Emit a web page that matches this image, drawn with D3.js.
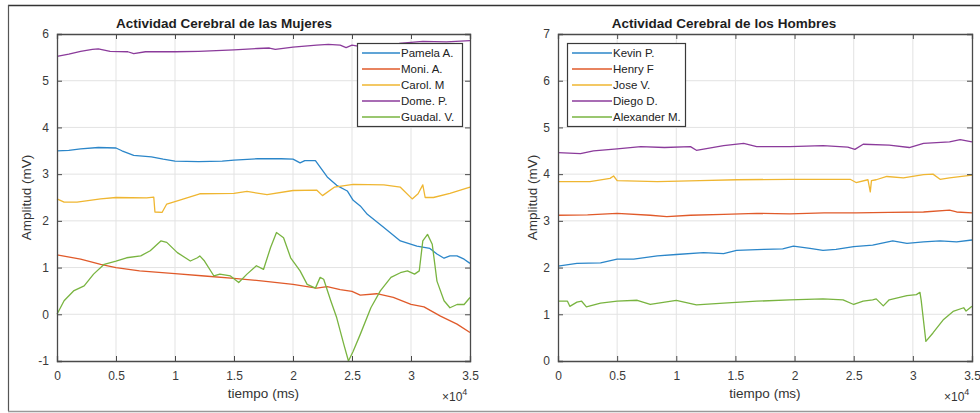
<!DOCTYPE html>
<html>
<head>
<meta charset="utf-8">
<script src="https://cdn.jsdelivr.net/npm/d3@7"></script>
<style>
  html, body { margin: 0; padding: 0; background: #fff; }
  svg { display: block; font-family: "Liberation Sans", Arial, sans-serif; }
</style>
</head>
<body>
<svg id="chart" width="980" height="413"></svg>
<script>
// ---------- data (time in units of 10^4 ms, amplitude in mV) ----------
const xTickValues = [0, 0.5, 1, 1.5, 2, 2.5, 3, 3.5];
const womenYTicks = [-1, 0, 1, 2, 3, 4, 5, 6];
const menYTicks = [0, 1, 2, 3, 4, 5, 6, 7];

const womenNames = ["Pamela A.", "Moni. A.", "Carol. M", "Dome. P.", "Guadal. V."];
const menNames = ["Kevin P.", "Henry F", "Jose V.", "Diego D.", "Alexander M."];

const pamela = [[0,3.50],[0.1,3.51],[0.2,3.54],[0.35,3.57],[0.5,3.56],[0.55,3.50],[0.65,3.40],[0.8,3.37],[0.9,3.32],[1.0,3.28],[1.2,3.27],[1.4,3.28],[1.5,3.30],[1.7,3.33],[1.9,3.33],[2.0,3.32],[2.06,3.24],[2.1,3.29],[2.19,3.29],[2.29,2.94],[2.37,2.76],[2.46,2.64],[2.51,2.44],[2.57,2.32],[2.63,2.14],[2.77,1.86],[2.91,1.57],[3.05,1.46],[3.16,1.41],[3.22,1.29],[3.28,1.20],[3.33,1.25],[3.39,1.25],[3.45,1.18],[3.5,1.09]];
const moni = [[0,1.27],[0.2,1.18],[0.37,1.07],[0.5,1.00],[0.7,0.93],[1.0,0.87],[1.25,0.82],[1.5,0.77],[1.75,0.71],[2.0,0.64],[2.2,0.56],[2.29,0.59],[2.4,0.53],[2.5,0.49],[2.57,0.41],[2.71,0.44],[2.85,0.36],[3.0,0.21],[3.11,0.16],[3.25,-0.04],[3.39,-0.21],[3.5,-0.39]];
const carol = [[0,2.47],[0.06,2.40],[0.17,2.40],[0.37,2.47],[0.5,2.50],[0.76,2.49],[0.82,2.51],[0.83,2.19],[0.89,2.18],[0.93,2.36],[1.02,2.43],[1.21,2.58],[1.5,2.59],[1.61,2.63],[1.78,2.56],[2.0,2.65],[2.2,2.66],[2.25,2.54],[2.35,2.72],[2.51,2.78],[2.77,2.77],[2.91,2.72],[3.01,2.47],[3.06,2.58],[3.1,2.77],[3.12,2.50],[3.19,2.50],[3.33,2.59],[3.5,2.72]];
const dome = [[0,5.52],[0.1,5.57],[0.2,5.63],[0.3,5.67],[0.35,5.68],[0.45,5.63],[0.6,5.62],[0.65,5.58],[0.75,5.62],[1.0,5.62],[1.2,5.63],[1.4,5.65],[1.5,5.66],[1.7,5.69],[1.8,5.70],[1.85,5.67],[2.0,5.72],[2.2,5.76],[2.3,5.78],[2.4,5.76],[2.45,5.71],[2.5,5.76],[2.55,5.74],[2.7,5.78],[2.9,5.80],[3.1,5.84],[3.3,5.83],[3.5,5.86]];
const guadal = [[0,0.00],[0.06,0.29],[0.14,0.50],[0.23,0.61],[0.31,0.86],[0.4,1.07],[0.5,1.14],[0.59,1.21],[0.71,1.25],[0.79,1.36],[0.88,1.57],[0.93,1.54],[1.02,1.32],[1.13,1.14],[1.19,1.21],[1.21,1.25],[1.25,1.14],[1.33,0.82],[1.38,0.86],[1.47,0.82],[1.54,0.68],[1.61,0.86],[1.69,1.04],[1.75,0.96],[1.81,1.43],[1.86,1.75],[1.92,1.64],[1.98,1.21],[2.06,0.93],[2.12,0.64],[2.19,0.56],[2.23,0.79],[2.26,0.75],[2.32,0.29],[2.37,-0.07],[2.43,-0.64],[2.47,-1.00],[2.51,-0.79],[2.57,-0.43],[2.66,0.14],[2.74,0.50],[2.83,0.79],[2.91,0.89],[2.97,0.93],[3.03,0.86],[3.07,0.93],[3.1,1.57],[3.14,1.71],[3.18,1.50],[3.22,0.71],[3.28,0.29],[3.33,0.14],[3.39,0.21],[3.45,0.21],[3.5,0.36]];

const kevin = [[0,2.03],[0.16,2.09],[0.36,2.10],[0.5,2.18],[0.64,2.18],[0.84,2.25],[1.0,2.28],[1.23,2.32],[1.4,2.30],[1.51,2.37],[1.74,2.39],[1.9,2.40],[1.99,2.46],[2.13,2.41],[2.24,2.37],[2.35,2.39],[2.5,2.45],[2.66,2.48],[2.83,2.57],[2.95,2.52],[3.09,2.55],[3.23,2.57],[3.37,2.55],[3.5,2.59]];
const henry = [[0,3.12],[0.25,3.13],[0.5,3.16],[0.78,3.12],[0.92,3.09],[1.12,3.12],[1.4,3.14],[1.68,3.16],[1.96,3.15],[2.25,3.17],[2.52,3.17],[2.8,3.18],[3.09,3.19],[3.31,3.23],[3.37,3.19],[3.5,3.17]];
const jose = [[0,3.84],[0.27,3.84],[0.44,3.91],[0.47,3.96],[0.5,3.86],[0.84,3.84],[1.2,3.86],[1.51,3.88],[1.96,3.89],[2.47,3.89],[2.52,3.82],[2.62,3.88],[2.64,3.62],[2.65,3.86],[2.69,3.88],[2.78,3.95],[2.92,3.92],[3.09,3.99],[3.17,4.00],[3.23,3.89],[3.31,3.92],[3.5,3.98]];
const diego = [[0,4.46],[0.19,4.44],[0.3,4.50],[0.5,4.54],[0.7,4.59],[0.9,4.57],[1.12,4.59],[1.17,4.51],[1.4,4.61],[1.57,4.66],[1.68,4.59],[1.96,4.59],[2.24,4.61],[2.45,4.58],[2.51,4.53],[2.58,4.64],[2.8,4.62],[2.97,4.57],[3.09,4.66],[3.31,4.69],[3.4,4.74],[3.5,4.69]];
const alexander = [[0,1.28],[0.08,1.28],[0.1,1.17],[0.16,1.26],[0.2,1.28],[0.24,1.16],[0.36,1.24],[0.5,1.28],[0.67,1.30],[0.78,1.21],[1.0,1.30],[1.17,1.20],[1.4,1.24],[1.68,1.28],[1.96,1.31],[2.24,1.33],[2.41,1.31],[2.5,1.21],[2.58,1.28],[2.66,1.31],[2.69,1.33],[2.75,1.18],[2.8,1.31],[2.95,1.40],[3.03,1.42],[3.06,1.47],[3.07,1.31],[3.11,0.42],[3.17,0.60],[3.26,0.89],[3.34,1.06],[3.43,1.14],[3.45,1.07],[3.5,1.17]];

const womenSeries = [pamela, moni, carol, dome, guadal];
const menSeries = [kevin, henry, jose, diego, alexander];
const colors = ["#2b86c9", "#e05a2a", "#efb631", "#8b3b9b", "#79b440"];

// ---------- drawing ----------
const svg = d3.select("#chart");

// outer frame
svg.append("line").attr("x1", 8).attr("x2", 980).attr("y1", 5.5).attr("y2", 5.5)
  .attr("stroke", "#333").attr("stroke-width", 1.4);
svg.append("line").attr("x1", 8.5).attr("x2", 8.5).attr("y1", 5).attr("y2", 411)
  .attr("stroke", "#555").attr("stroke-width", 1.2);
svg.append("line").attr("x1", 8).attr("x2", 980).attr("y1", 411.5).attr("y2", 411.5)
  .attr("stroke", "#999").attr("stroke-width", 1.4);

function drawPanel(cfg) {
  const g = svg.append("g");
  const x = d3.scaleLinear().domain([0, 3.5]).range([cfg.left, cfg.right]);
  const y = d3.scaleLinear().domain(cfg.yDomain).range([cfg.bottom, cfg.top]);

  // grid
  g.append("g").selectAll("line.vg").data(xTickValues.slice(1, -1)).join("line")
    .attr("x1", d => x(d)).attr("x2", d => x(d))
    .attr("y1", cfg.top).attr("y2", cfg.bottom)
    .attr("stroke", "#e3e3e3").attr("stroke-width", 1);
  g.append("g").selectAll("line.hg").data(cfg.yTicks.slice(1, -1)).join("line")
    .attr("x1", cfg.left).attr("x2", cfg.right)
    .attr("y1", d => y(d)).attr("y2", d => y(d))
    .attr("stroke", "#e3e3e3").attr("stroke-width", 1);

  // series
  const line = d3.line().x(d => x(d[0])).y(d => y(d[1]));
  cfg.series.forEach((s, i) => {
    g.append("path").datum(s).attr("d", line)
      .attr("fill", "none").attr("stroke", colors[i])
      .attr("stroke-width", 1.3).attr("stroke-linejoin", "round");
  });

  // axes (ticks inward, box)
  const tickLen = 5;
  const fmt = d => String(d);
  const axB = d3.axisBottom(x).tickValues(xTickValues).tickSize(-tickLen).tickPadding(10)
    .tickFormat(fmt);
  const axT = d3.axisTop(x).tickValues(xTickValues).tickSize(-tickLen).tickFormat("");
  const axL = d3.axisLeft(y).tickValues(cfg.yTicks).tickSize(-tickLen).tickPadding(8)
    .tickFormat(fmt);
  const axR = d3.axisRight(y).tickValues(cfg.yTicks).tickSize(-tickLen).tickFormat("");

  const style = sel => {
    sel.select(".domain").attr("stroke", "#4a4a4a").attr("stroke-width", 1.3);
    sel.selectAll(".tick line").attr("stroke", "#4a4a4a").attr("stroke-width", 1);
    sel.selectAll(".tick text").attr("fill", "#3a3a3a")
      .style("font-size", "12px").style("font-family", "'Liberation Sans', Arial, sans-serif");
  };
  g.append("g").attr("transform", `translate(0,${cfg.bottom})`).call(axB).call(style);
  g.append("g").attr("transform", `translate(0,${cfg.top})`).call(axT).call(style);
  g.append("g").attr("transform", `translate(${cfg.left},0)`).call(axL).call(style);
  g.append("g").attr("transform", `translate(${cfg.right},0)`).call(axR).call(style);

  // title
  g.append("text").attr("x", cfg.titleX).attr("y", 28).attr("text-anchor", "middle")
    .attr("font-weight", "bold").attr("font-size", 13.5).attr("fill", "#1e1e1e")
    .text(cfg.title);

  // axis labels
  const cx = (cfg.left + cfg.right) / 2;
  g.append("text").attr("x", cx).attr("y", 398).attr("text-anchor", "middle")
    .attr("font-size", 13.5).attr("fill", "#333").text("tiempo (ms)");
  g.append("text")
    .attr("transform", `translate(${cfg.yLabelX},${(cfg.top + cfg.bottom) / 2}) rotate(-90)`)
    .attr("text-anchor", "middle").attr("font-size", 13.5).attr("fill", "#333")
    .text("Amplitud (mV)");

  // exponent label
  const ex = g.append("text").attr("x", cfg.right - 28).attr("y", 401)
    .attr("font-size", 12).attr("fill", "#333");
  ex.append("tspan").text("\u00d710");
  ex.append("tspan").attr("dy", -6).attr("font-size", 9).text("4");

  // legend
  const lg = g.append("g").attr("transform", `translate(${cfg.legX},${cfg.legY})`);
  lg.append("rect").attr("x", 0.5).attr("y", 0.5).attr("width", cfg.legW).attr("height", 83)
    .attr("fill", "#fff").attr("stroke", "#3a3a3a").attr("stroke-width", 1.2);
  cfg.names.forEach((n, i) => {
    const yy = 10 + i * 16;
    lg.append("line").attr("x1", 5).attr("x2", 5 + cfg.legLine).attr("y1", yy).attr("y2", yy)
      .attr("stroke", colors[i]).attr("stroke-width", 1.5);
    lg.append("text").attr("x", 6 + cfg.legLine).attr("y", yy + 4)
      .attr("font-size", 11.5).attr("fill", "#222").text(n);
  });
}

drawPanel({
  left: 57, right: 470, top: 34, bottom: 361,
  yDomain: [-1, 6], yTicks: womenYTicks, series: womenSeries, names: womenNames,
  title: "Actividad Cerebral de las Mujeres", titleX: 224, yLabelX: 31,
  legX: 357, legY: 43, legW: 105, legLine: 38
});
drawPanel({
  left: 558, right: 972, top: 34, bottom: 361,
  yDomain: [0, 7], yTicks: menYTicks, series: menSeries, names: menNames,
  title: "Actividad Cerebral de los Hombres", titleX: 724, yLabelX: 537,
  legX: 567, legY: 43, legW: 118, legLine: 40
});
</script>
</body>
</html>
